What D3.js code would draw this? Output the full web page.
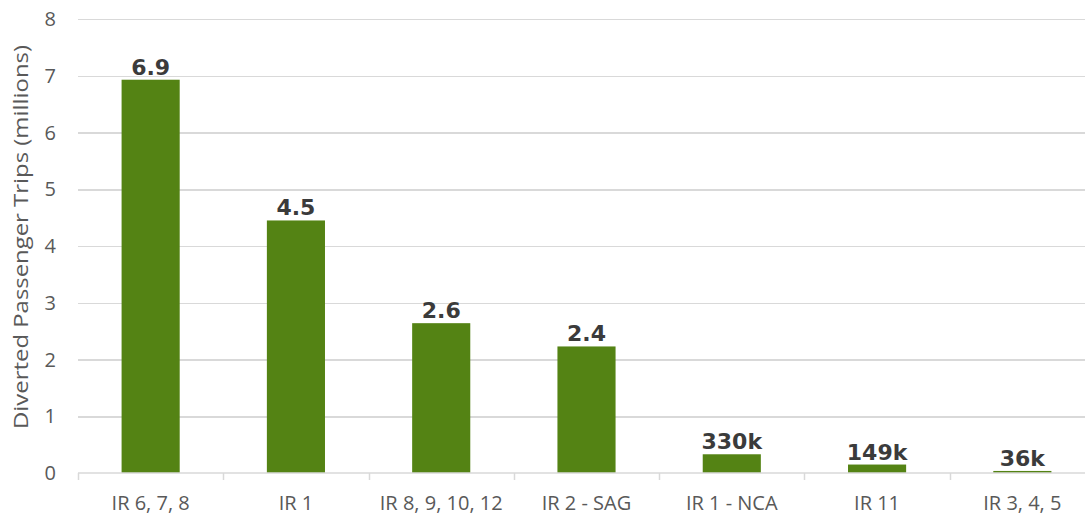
<!DOCTYPE html>
<html>
<head>
<meta charset="utf-8">
<script src="https://d3js.org/d3.v7.min.js"></script>
<style>
  body { margin: 0; background: #fff; }
  .grid line { stroke: #d9d9d9; stroke-width: 1.5; shape-rendering: crispEdges; }
  .grid path { display: none; }
</style>
</head>
<body>
<div id="chart"></div>
<script>
// values (millions of diverted trips)
var categories = ["IR 6, 7, 8", "IR 1", "IR 8, 9, 10, 12", "IR 2 - SAG", "IR 1 - NCA", "IR 11", "IR 3, 4, 5"];
var values = [6.93, 4.45, 2.64, 2.23, 0.33, 0.149, 0.036];
var valueLabels = ["6.9", "4.5", "2.6", "2.4", "330k", "149k", "36k"];
var yTicks = [0, 1, 2, 3, 4, 5, 6, 7, 8];

var W = 1085, H = 515;
var margin = {top: 19, right: -10, bottom: 42, left: 78};
var width = W - margin.left - margin.right,
    height = H - margin.top - margin.bottom;

var svg = d3.select("#chart").append("svg")
    .attr("width", W)
    .attr("height", H)
  .append("g")
    .attr("transform", "translate(" + margin.left + "," + margin.top + ")");

var x = d3.scaleBand()
    .domain(categories)
    .range([0, width])
    .paddingInner(0.6)
    .paddingOuter(0.3);

var y = d3.scaleLinear()
    .domain([0, 8])
    .range([height, 0]);

// gridlines
svg.append("g")
    .attr("class", "grid")
    .call(d3.axisLeft(y).tickValues(yTicks.slice(1)).tickSize(-width).tickFormat(""));

// y tick labels
svg.append("g")
  .selectAll("text")
  .data(yTicks)
  .enter().append("text")
    .attr("x", -22)
    .attr("y", function(d) { return y(d); })
    .attr("dy", "0.36em")
    .attr("text-anchor", "end")
    .style("font-family", "'Open Sans', sans-serif")
    .style("font-size", "20px")
    .style("fill", "#595959")
    .text(function(d) { return d; });

// y title
svg.append("text")
    .attr("transform", "rotate(-90)")
    .attr("x", -height / 2 + 9)
    .attr("y", -50)
    .attr("text-anchor", "middle")
    .attr("textLength", 384)
    .attr("lengthAdjust", "spacingAndGlyphs")
    .style("font-family", "'Open Sans', sans-serif")
    .style("font-size", "20px")
    .style("fill", "#595959")
    .text("Diverted Passenger Trips (millions)");

// bars
svg.selectAll(".bar")
    .data(values)
  .enter().append("rect")
    .attr("class", "bar")
    .attr("x", function(d, i) { return x(categories[i]); })
    .attr("width", x.bandwidth())
    .attr("y", function(d) { return y(d); })
    .attr("height", function(d) { return height - y(d); })
    .style("fill", "#548314");

// value labels
svg.selectAll(".lbl")
    .data(values)
  .enter().append("text")
    .attr("class", "lbl")
    .attr("x", function(d, i) { return x(categories[i]) + x.bandwidth() / 2; })
    .attr("y", function(d) { return y(d) - 5; })
    .attr("text-anchor", "middle")
    .style("font-family", "'DejaVu Sans', sans-serif")
    .style("font-weight", "bold")
    .style("font-size", "22px")
    .style("fill", "#3b3b3b")
    .text(function(d, i) { return valueLabels[i]; });

// x axis line + ticks between categories
var xAxis = svg.append("g").attr("transform", "translate(0," + height + ")");
xAxis.append("line")
    .attr("x1", 0).attr("x2", width)
    .attr("stroke", "#d9d9d9").attr("stroke-width", 1.5);
var step = x.step();
xAxis.selectAll(".tk")
    .data(d3.range(categories.length + 1))
  .enter().append("line")
    .attr("x1", function(i) { return Math.round(i * step) + 0.5; })
    .attr("x2", function(i) { return Math.round(i * step) + 0.5; })
    .attr("y1", 0).attr("y2", 7)
    .attr("stroke", "#d9d9d9").attr("stroke-width", 1.5);
xAxis.selectAll(".xl")
    .data(categories)
  .enter().append("text")
    .attr("x", function(d) { return x(d) + x.bandwidth() / 2; })
    .attr("y", 37)
    .attr("text-anchor", "middle")
    .style("font-family", "'Open Sans', sans-serif")
    .style("font-size", "20px")
    .style("fill", "#595959")
    .text(function(d) { return d; });
</script>
</body>
</html>
